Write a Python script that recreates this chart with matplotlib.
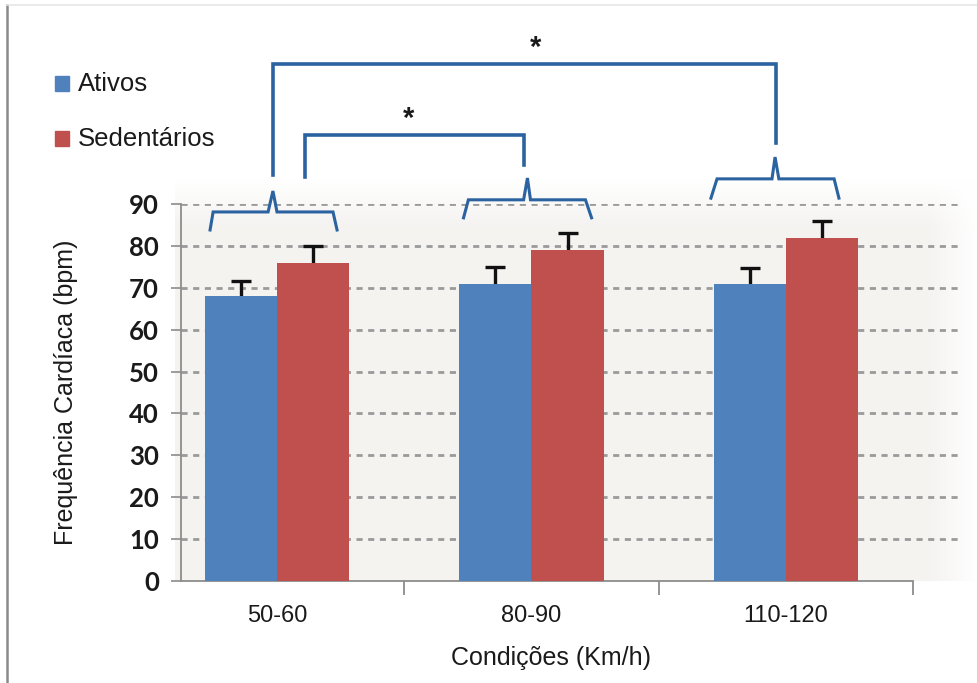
import matplotlib
matplotlib.use("Agg")
import matplotlib.pyplot as plt
import numpy as np
from matplotlib.lines import Line2D
from matplotlib.patches import Rectangle

# ---- data ----
categories = ["50-60", "80-90", "110-120"]
ativos = [68, 71, 71]
sedentarios = [76, 79, 82]
err_ativos = [3.5, 4, 3.7]
err_sedentarios = [4, 4, 4]
series_names = ["Ativos", "Sedentários"]
yticks = [0, 10, 20, 30, 40, 50, 60, 70, 80, 90]

# brace annotations per group: (x offsets rel. to group centre, y levels)
brace_end_y = [83.8, 86.7, 91.4]
brace_mid_y = [88.1, 91.0, 96.0]
brace_peak_y = [93.1, 96.2, 101.2]
brace_x = [[-0.263, -0.251, -0.035, -0.016, 0.0, 0.22, 0.236],
           [-0.267, -0.248, -0.031, -0.016, -0.004, 0.212, 0.236],
           [-0.295, -0.271, -0.055, -0.043, -0.028, 0.189, 0.208]]
# significance brackets: x_left, x_right, y_left_bottom, y_top, y_right_bottom, star_x, star_y
sig_brackets = [(-0.016, 1.96, 96.9, 123.4, 104.6, 1.014, 127.2),
                (0.11, 0.969, 96.4, 106.5, 99.3, 0.515, 110.3)]

BLUE = "#4f81bd"
RED = "#c0504d"
LINE = "#2b62a0"
GRID = "#9a9a9a"
AX = "#8c8c8c"
TXT = "#1a1a1a"

fig = plt.figure(figsize=(9.78, 6.83), dpi=100)
W, H = 978, 683

def fx(px):
    return px / W

def fy(py):
    return 1 - py / H

# background shading
bg = fig.add_axes([fx(175), fy(581), fx(978 - 175), fy(178) - fy(581)], zorder=0)
ny, nx = 200, 300
yy = np.linspace(0, 1, ny)[:, None]
xx = np.linspace(0, 1, nx)[None, :]
shade = np.clip(yy / 0.12, 0, 1) * np.clip((1 - xx) / 0.06, 0, 1)
base = np.array([0.958, 0.953, 0.944])
img = 1 - shade[..., None] * (1 - base)[None, None, :]
bg.imshow(img, aspect="auto", origin="upper", extent=[0, 1, 0, 1])
bg.axis("off")

# main axes: left at px 181, right at 960; y 0 at 581, 90 at 204
x0 = 277
step = 254.5
xl = -(x0 - 181) / step
xr = (960 - x0) / step
ax = fig.add_axes([fx(181), fy(581), fx(960 - 181), fy(204) - fy(581)], zorder=2)
ax.patch.set_alpha(0)
ax.set_xlim(xl, xr)
ax.set_ylim(0, 90)

x = np.arange(len(categories))
bw = 0.283
ax.bar(x - bw / 2, ativos, bw, color=BLUE, zorder=3, label=series_names[0])
ax.bar(x + bw / 2, sedentarios, bw, color=RED, zorder=3, label=series_names[1])
ax.errorbar(x - bw / 2, ativos, yerr=err_ativos, fmt="none", ecolor="#111111",
            elinewidth=2.4, capsize=7, capthick=2.4, zorder=2)
ax.errorbar(x + bw / 2, sedentarios, yerr=err_sedentarios, fmt="none", ecolor="#111111",
            elinewidth=2.4, capsize=7, capthick=2.4, zorder=2)

# grid
for v in yticks[1:]:
    ax.axhline(v, color=GRID, lw=2.0, ls=(0, (2.2, 2.0)), zorder=1)

# spines
for s in ["top", "right"]:
    ax.spines[s].set_visible(False)
ax.spines["left"].set_color(AX)
ax.spines["bottom"].set_color(AX)
ax.spines["left"].set_linewidth(1.3)
ax.spines["bottom"].set_linewidth(1.3)
ax.spines["bottom"].set_bounds(xl, 2.5)

ax.set_yticks(yticks)
ax.set_yticklabels([str(v) for v in yticks], fontsize=18.5, fontweight="bold",
                   family="Lato", color=TXT)
ax.tick_params(axis="y", length=7, width=1.2, color=AX, pad=9)

# x: major boundaries ticks, minor labels
ax.set_xticks([0.5, 1.5, 2.5])
ax.set_xticklabels([])
ax.tick_params(axis="x", which="major", length=10, width=1.3, color=AX)
ax.set_xticks(x, minor=True)
ax.set_xticklabels(categories, minor=True, fontsize=17, family="Liberation Sans", color=TXT)
ax.tick_params(axis="x", which="minor", length=0, pad=17)

ax.set_xlabel("Condições (Km/h)", fontsize=18, family="Liberation Sans", color=TXT)
ax.xaxis.set_label_coords((551 - 181) / (960 - 181), -(646 - 581) / (581 - 204))
ax.set_ylabel("Frequência Cardíaca (bpm)", fontsize=18, family="Liberation Sans", color=TXT)
ax.yaxis.set_label_coords(-(181 - 78) / (960 - 181), (581 - 392) / (581 - 204))

# braces
for i in range(len(categories)):
    bx = [i + d for d in brace_x[i]]
    by = [brace_end_y[i], brace_mid_y[i], brace_mid_y[i], brace_peak_y[i],
          brace_mid_y[i], brace_mid_y[i], brace_end_y[i]]
    ax.plot(bx, by, color=LINE, lw=2.2, clip_on=False, zorder=5,
            solid_joinstyle="miter")

# significance brackets
for (xa, xb, ya, yt, yb, sx, sy) in sig_brackets:
    ax.plot([xa, xa, xb, xb], [ya, yt, yt, yb], color=LINE, lw=2.6,
            clip_on=False, zorder=5, solid_joinstyle="miter")
    ax.text(sx, sy, "*", ha="center", va="center", fontsize=21, fontweight="bold",
            family="Liberation Sans", color=TXT, clip_on=False)

# legend (manual placement like original)
fig.patches.append(Rectangle((fx(55), fy(91)), fx(14), fy(76) - fy(91), color=BLUE,
                             transform=fig.transFigure, figure=fig))
fig.patches.append(Rectangle((fx(55), fy(146)), fx(14), fy(131) - fy(146), color=RED,
                             transform=fig.transFigure, figure=fig))
fig.text(fx(78), fy(84), series_names[0], fontsize=18.5, family="Liberation Sans",
         va="center", ha="left", color=TXT)
fig.text(fx(78), fy(139), series_names[1], fontsize=18.5, family="Liberation Sans",
         va="center", ha="left", color=TXT)

# frame lines
fig.add_artist(Line2D([fx(7), fx(7)], [0, fy(5)], color="#8a8a8a", lw=1.8))
fig.add_artist(Line2D([fx(7), 1], [fy(5), fy(5)], color="#e6e6e6", lw=1.2))

fig.savefig("out.png", dpi=100)
